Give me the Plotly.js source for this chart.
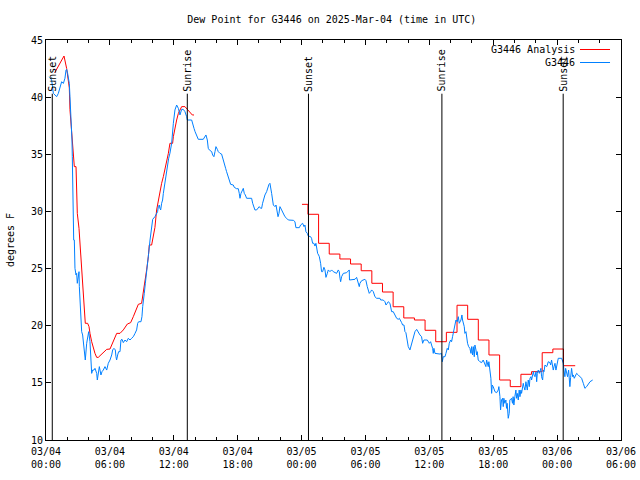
<!DOCTYPE html>
<html>
<head>
<meta charset="utf-8">
<script src="https://cdn.plot.ly/plotly-3.0.1.min.js"></script>
<style>html,body{margin:0;padding:0;background:#fff;}#chart{width:640px;height:480px;}</style>
</head>
<body>
<div id="chart"></div>
<script>
// ---- data (hours since 2025-03-04 00:00 UTC) ----
var chartTitle = "Dew Point for G3446 on 2025-Mar-04 (time in UTC)";
var seriesNames = ["G3446 Analysis", "G3446"];

var xTickVals = [0, 6, 12, 18, 24, 30, 36, 42, 48, 54];
var xTickText = ["03/04<br>00:00", "03/04<br>06:00", "03/04<br>12:00", "03/04<br>18:00",
                 "03/05<br>00:00", "03/05<br>06:00", "03/05<br>12:00", "03/05<br>18:00",
                 "03/06<br>00:00", "03/06<br>06:00"];

var sunTimes  = [0.59, 13.27, 24.65, 37.18, 48.57];
var sunLabels = ["Sunset", "Sunrise", "Sunset", "Sunrise", "Sunset"];

// analysis, first day (continuous line)
var anaEarlyT = [0.82,1.69,1.94,2.19,2.25,2.35,2.47,2.57,2.66,2.82,2.88,2.94,3.10,3.19,3.26,3.35,3.44,3.50,3.60,3.69,
  3.91,4.04,4.13,4.29,4.60,4.76,4.91,5.70,6.01,6.17,6.64,6.95,7.26,7.64,7.95,8.20,8.51,8.67,8.98,9.14,
  9.30,9.45,9.61,9.70,9.92,10.08,10.23,10.39,10.55,10.70,10.86,11.02,11.17,11.33,11.49,11.64,11.89,11.96,12.11,12.27,
  12.43,12.58,12.74,13.05,13.36,13.52,13.74,13.90];
var anaEarlyV = [42.14,43.6,42.5,40.8,38.9,37.7,36.5,34.8,33.92,33.92,32.17,29.83,28.52,27.21,26.04,24.88,23.42,22.25,20.79,20.21,
  20.21,19.92,19.33,18.6,17.58,17.23,17.23,17.93,17.96,18.31,19.33,19.33,19.63,20.15,20.27,20.79,21.52,21.87,21.96,22.83,
  23.71,24.88,26.04,27.06,27.06,28.08,28.6,30.13,31.0,31.73,32.46,33.04,33.63,34.21,35.08,35.96,35.96,36.54,37.42,38.0,
  38.58,38.88,39.17,39.17,38.88,38.73,38.44,38.44];

// analysis, hourly steps
var anaLateT = [24.04,24.6,25.6,26.6,27.6,28.6,29.6,30.6,31.6,32.6,33.6,34.6,35.6,36.6,37.6,38.6,39.6,40.6,41.6,42.6,
  43.6,44.6,45.6,46.6,47.6,48.6,49.7];
var anaLateV = [30.62,29.75,27.21,26.27,25.84,25.4,24.81,23.71,22.95,21.66,20.68,20.5,19.6,18.6,19.42,21.79,20.56,18.75,17.44,15.25,
  14.67,15.75,15.98,17.64,17.96,16.5,16.5];

// observations
var obsT = [0.31,0.53,0.69,0.85,1.00,1.16,1.31,1.47,1.63,1.78,1.88,1.94,2.03,2.13,2.19,2.25,2.32,2.38,2.44,2.47,
  2.50,2.57,2.60,2.66,2.72,2.82,2.88,2.94,3.04,3.10,3.13,3.19,3.25,3.35,3.44,3.50,3.60,3.69,3.82,3.91,
  4.01,4.13,4.23,4.29,4.38,4.51,4.60,4.76,4.82,4.91,5.01,5.07,5.16,5.26,5.38,5.54,5.70,5.85,6.01,6.17,
  6.26,6.38,6.51,6.57,6.63,6.73,6.82,6.95,7.04,7.14,7.26,7.42,7.57,7.73,7.89,8.04,8.20,8.36,8.51,8.61,
  8.70,8.92,9.01,9.08,9.14,9.23,9.33,9.45,9.55,9.64,9.77,9.86,9.95,10.02,10.23,10.39,10.48,10.55,10.64,10.70,
  10.77,10.86,10.95,11.02,11.11,11.20,11.33,11.42,11.52,11.64,11.80,11.96,12.11,12.27,12.43,12.58,12.74,12.89,13.05,13.21,
  13.27,13.68,13.77,13.90,14.00,14.15,14.30,14.77,14.93,15.02,15.15,15.24,15.34,15.56,15.65,15.77,15.87,15.96,16.09,16.18,
  16.34,16.49,16.65,16.75,16.87,16.96,17.12,17.21,17.34,17.59,17.68,17.90,18.06,18.15,18.22,18.31,18.41,18.53,18.62,18.72,
  18.84,19.31,19.41,19.53,19.62,19.78,19.94,20.03,20.16,20.25,20.34,20.47,20.56,20.72,20.81,20.94,21.03,21.09,21.19,21.35,
  21.50,21.60,21.72,21.79,21.88,21.97,22.13,22.29,22.44,22.60,22.76,23.23,23.38,23.47,23.79,23.91,24.10,24.23,24.32,24.41,
  24.54,24.63,24.73,24.85,24.94,25.04,25.16,25.26,25.35,25.42,25.51,25.60,25.67,25.79,25.88,25.98,26.10,26.20,26.29,26.42,
  26.51,26.67,26.82,26.98,27.29,27.45,27.54,27.61,27.67,27.76,27.92,28.23,28.48,28.50,28.86,29.02,29.17,29.27,29.36,29.42,
  29.48,29.64,29.95,30.05,30.17,30.27,30.36,30.49,30.58,30.74,30.89,31.05,31.36,31.43,31.67,31.83,31.93,32.05,32.14,32.30,
  32.39,32.46,32.61,32.77,32.93,33.08,33.18,33.40,33.49,33.62,33.71,33.80,33.93,34.02,34.18,34.34,34.49,34.65,34.81,34.96,
  35.12,35.27,35.37,35.49,35.81,36.00,36.12,36.21,36.31,36.37,36.43,36.53,37.00,37.15,37.22,37.31,37.47,37.56,37.68,37.78,
  37.87,38.00,38.09,38.18,38.25,38.34,38.43,38.50,38.62,38.72,38.81,38.97,39.06,39.12,39.28,39.34,39.44,39.50,39.59,39.69,
  39.81,39.91,39.97,40.06,40.13,40.22,40.28,40.38,40.44,40.50,40.59,40.75,40.91,41.06,41.22,41.31,41.38,41.53,41.59,41.69,
  41.78,41.85,41.91,42.00,42.16,42.32,42.47,42.53,42.63,42.69,42.78,42.88,42.94,43.00,43.09,43.19,43.25,43.31,43.41,43.50,
  43.56,43.72,43.81,43.87,43.94,44.03,44.13,44.19,44.26,44.35,44.44,44.51,44.60,44.66,44.76,44.82,44.88,44.98,45.07,45.13,
  45.20,45.29,45.39,45.45,45.54,45.60,45.70,45.77,45.83,45.92,46.02,46.08,46.14,46.23,46.33,46.39,46.48,46.54,46.64,46.71,
  46.77,46.86,47.02,47.08,47.17,47.33,47.39,47.48,47.58,47.64,47.71,47.80,47.89,47.96,48.02,48.11,48.43,48.52,48.58,48.64,
  48.73,48.80,48.89,48.98,49.08,49.14,49.20,49.27,49.36,49.46,49.52,49.61,49.71,49.83,49.99,50.14,50.30,50.46,50.61,50.77,
  50.93,51.09,51.34];
var obsV = [41.79,41.5,40.33,40.19,40.04,40.33,40.77,41.35,41.2,41.65,42.38,42.43,42.08,41.5,41.2,40.04,38.88,37.71,36.25,34.8,
  31.29,31.29,27.5,27.5,25.02,24.44,24.58,23.71,24.29,24.73,23.42,22.25,20.79,19.48,19.19,18.6,17.58,17.0,18.46,19.19,
  19.48,18.6,17.29,15.83,16.12,16.12,16.27,15.83,15.25,16.12,16.42,16.12,15.69,15.98,16.12,16.42,16.12,16.71,17.0,17.44,
  17.88,18.02,17.88,17.29,17.0,17.44,17.73,17.73,18.75,18.81,18.52,18.75,18.6,18.9,18.75,18.9,19.04,19.33,19.63,20.21,
  20.35,20.35,20.79,21.67,22.4,22.83,23.71,24.58,25.31,26.33,27.5,28.08,29.1,29.31,29.54,29.83,29.98,30.42,30.56,30.27,
  30.13,30.71,31.0,31.58,32.17,32.75,33.33,33.92,34.65,35.1,35.96,37.71,38.88,39.31,39.02,38.44,38.93,38.93,38.73,38.29,
  38.0,38.0,37.56,37.27,36.98,36.54,36.31,36.31,36.54,36.69,36.25,35.52,35.38,35.23,34.94,34.79,35.23,35.67,35.43,35.23,
  35.08,35.02,34.5,34.06,33.77,33.48,33.04,32.6,32.37,32.31,32.11,31.99,31.99,31.58,31.15,31.58,31.87,32.02,31.58,31.44,
  31.15,31.15,30.71,30.27,30.13,30.13,30.27,30.42,30.27,30.27,30.71,31.15,31.44,31.73,32.02,32.37,32.46,32.17,31.58,30.56,
  30.42,30.56,29.98,29.54,29.83,30.42,30.13,29.83,29.54,29.4,29.25,29.22,29.1,28.58,28.58,28.81,28.96,28.67,28.81,28.23,
  28.08,27.85,27.79,27.79,27.65,27.21,27.21,26.97,27.21,26.77,26.33,26.19,26.04,25.46,24.73,24.73,25.11,24.88,24.23,24.58,
  24.88,24.73,24.88,24.73,24.58,24.88,24.73,24.15,23.85,24.29,24.58,24.64,24.88,24.0,24.0,24.06,24.23,23.85,23.56,23.42,
  23.71,23.94,24.06,23.94,23.42,23.18,22.83,22.98,23.13,22.98,22.54,22.4,22.4,22.25,22.25,22.1,21.81,21.96,22.1,21.96,
  21.67,21.23,21.23,20.94,20.65,20.56,20.65,20.27,20.06,20.06,19.48,19.39,18.75,18.17,17.88,18.52,19.04,19.48,19.68,19.39,
  19.19,19.04,18.46,18.75,18.75,18.46,18.6,18.31,18.02,17.58,18.02,17.58,17.52,17.58,16.85,17.29,17.29,17.58,18.02,17.88,
  18.46,18.75,18.6,19.04,19.33,19.92,20.21,20.5,20.35,20.79,20.21,20.5,20.94,20.5,19.92,19.33,19.48,19.04,18.46,18.17,
  18.02,17.58,18.17,17.44,18.17,17.29,18.31,17.88,17.44,17.73,17.0,16.85,16.77,17.0,16.71,16.42,17.0,16.42,16.85,16.12,
  15.4,14.08,14.81,14.67,14.23,14.14,14.37,14.67,13.79,12.63,13.5,13.65,12.92,13.65,13.21,13.5,12.77,13.21,11.9,12.33,
  13.5,13.65,13.21,13.79,13.06,13.79,14.37,13.65,14.08,13.5,14.37,13.79,14.37,14.08,14.52,14.96,14.67,14.37,15.1,14.81,
  14.37,15.25,14.67,15.4,15.54,15.25,15.83,15.98,15.69,15.54,15.98,15.1,15.83,16.12,15.83,15.98,16.27,15.54,15.25,16.12,
  15.98,16.56,16.42,16.56,16.85,16.77,16.56,17.0,16.56,16.12,16.42,16.71,16.12,16.56,16.85,17.15,17.15,16.85,16.71,16.12,
  15.54,16.27,15.98,15.54,16.12,15.1,14.67,15.48,16.27,15.54,15.69,15.4,15.69,15.83,15.69,15.54,15.4,14.96,14.52,14.67,
  14.9,15.1,15.25];

// ---- styling ----
var FONT = "DejaVu Sans Mono, Liberation Mono, monospace";
var RED = "#ff0000", BLUE = "#0080ff";

var traces = [
  {x: anaEarlyT, y: anaEarlyV, type: "scatter", mode: "lines", name: seriesNames[0],
   line: {color: RED, width: 1, shape: "linear"}, hoverinfo: "skip"},
  {x: anaLateT, y: anaLateV, type: "scatter", mode: "lines", name: seriesNames[0], showlegend: false,
   line: {color: RED, width: 1, shape: "hv"}, hoverinfo: "skip"},
  {x: obsT, y: obsV, type: "scatter", mode: "lines", name: seriesNames[1],
   line: {color: BLUE, width: 1}, hoverinfo: "skip"}
];

var shapes = [], annotations = [];
for (var i = 0; i < sunTimes.length; i++) {
  shapes.push({type: "line", xref: "x", yref: "y", x0: sunTimes[i], x1: sunTimes[i], y0: 10, y1: 40.3,
               line: {color: "#000", width: 1}, layer: "above"});
  annotations.push({xref: "x", yref: "y", x: sunTimes[i], y: 40.4, text: sunLabels[i], textangle: -90,
                    showarrow: false, xanchor: "center", yanchor: "bottom", borderpad: 0,
                    font: {family: FONT, size: 10, color: "#000"}});
}
// key (gnuplot style: text then sample line)
var keyColors = [RED, BLUE];
var keyY = [0.97625, 0.94375];
for (var k = 0; k < seriesNames.length; k++) {
  annotations.push({xref: "paper", yref: "paper", x: 0.921, y: keyY[k], text: seriesNames[k],
                    showarrow: false, xanchor: "right", yanchor: "middle", borderpad: 0,
                    font: {family: FONT, size: 10, color: "#000"}});
  shapes.push({type: "line", xref: "paper", yref: "paper", x0: 0.9287, x1: 0.9809, y0: keyY[k], y1: keyY[k],
               line: {color: keyColors[k], width: 1}});
}

var layout = {
  width: 640, height: 480,
  margin: {l: 46, r: 19, t: 40, b: 40, pad: 0},
  paper_bgcolor: "#fff", plot_bgcolor: "#fff",
  showlegend: false,
  font: {family: FONT, size: 10, color: "#000"},
  title: {text: chartTitle, font: {family: FONT, size: 10, color: "#000"},
          xref: "paper", x: 0.497, xanchor: "center", yref: "container", y: 0.96, yanchor: "middle"},
  xaxis: {range: [0, 54], tickmode: "array", tickvals: xTickVals, ticktext: xTickText,
          ticks: "inside", ticklen: 5, tickwidth: 1, tickcolor: "#000", ticklabelstandoff: 2,
          minor: {tickmode: "linear", tick0: 0, dtick: 2, ticks: "inside", ticklen: 3, tickcolor: "#000", showgrid: false},
          showline: true, linecolor: "#000", linewidth: 1, mirror: "ticks",
          showgrid: false, zeroline: false, tickfont: {family: FONT, size: 10, color: "#000"}},
  yaxis: {range: [10, 45], tickmode: "linear", tick0: 10, dtick: 5,
          ticks: "inside", ticklen: 5, tickwidth: 1, tickcolor: "#000",
          showline: true, linecolor: "#000", linewidth: 1, mirror: "ticks",
          showgrid: false, zeroline: false, tickfont: {family: FONT, size: 10, color: "#000"},
          title: {text: "degrees F", font: {family: FONT, size: 10, color: "#000"}, standoff: 14}},
  shapes: shapes,
  annotations: annotations
};

Plotly.newPlot("chart", traces, layout, {staticPlot: true, displayModeBar: false});
</script>
</body>
</html>
